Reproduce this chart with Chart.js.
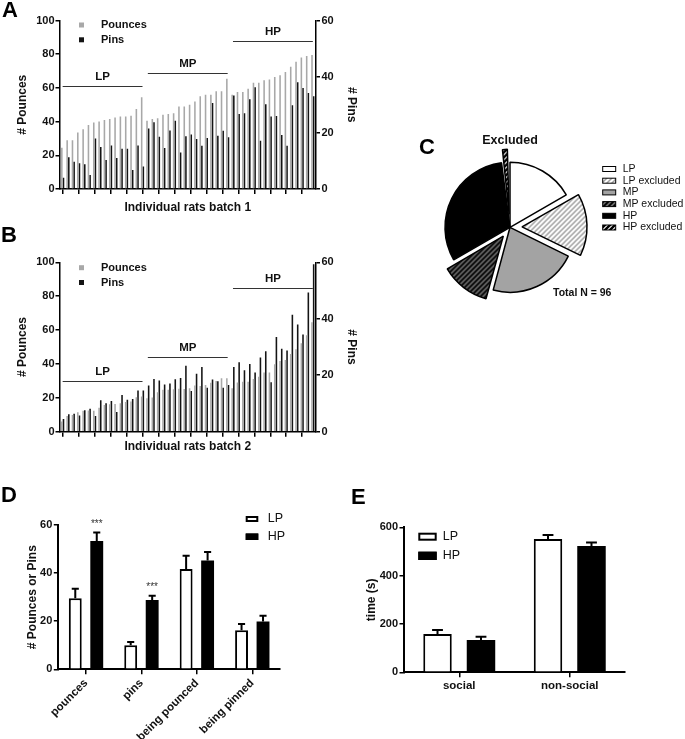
<!DOCTYPE html>
<html>
<head>
<meta charset="utf-8">
<script src="https://cdn.jsdelivr.net/npm/chart.js@4.4.0/dist/chart.umd.min.js"></script>
<style>
  html, body { margin: 0; padding: 0; background: #fff; overflow: hidden; }
  #fig { position: relative; width: 685px; height: 739px; }
  canvas { position: absolute; }
  .lbl { position: absolute; font: bold 22px 'Liberation Sans', Arial, sans-serif; line-height: 1; color: #000; }
</style>
</head>
<body>
<div id="fig">
  <canvas id="chartA" width="370" height="225" style="left:0;top:0;width:370px;height:225px"></canvas>
  <canvas id="chartB" width="370" height="225" style="left:0;top:240px;width:370px;height:225px"></canvas>
  <canvas id="chartC" width="345" height="190" style="left:340px;top:125px;width:345px;height:190px"></canvas>
  <canvas id="chartD" width="340" height="259" style="left:0;top:480px;width:340px;height:259px"></canvas>
  <canvas id="chartE" width="345" height="259" style="left:340px;top:480px;width:345px;height:259px"></canvas>
  <div class="lbl" style="left:2px;top:-1px">A</div>
  <div class="lbl" style="left:1px;top:224px">B</div>
  <div class="lbl" style="left:419px;top:136px">C</div>
  <div class="lbl" style="left:1px;top:484px">D</div>
  <div class="lbl" style="left:351px;top:486px">E</div>
</div>
<script>
// data
var ratLabels = [];
for (var i = 1; i <= 48; i++) ratLabels.push(String(i));

var batch1Pounces = [24.5, 29, 29, 33.5, 35.5, 38, 39.5, 40, 41, 41.5, 42.5, 43, 43, 43.5, 47.5, 54.5,
                     40.5, 41.5, 42, 44, 44.5, 45, 49, 49, 50, 52, 55, 56, 56, 58, 58, 65.5,
                     56, 57.5, 57.5, 59.5, 63, 63, 64.5, 65, 66.5, 67.5, 69.5, 72.5, 75.5, 78, 79, 79.5];
var batch1Pins = [4, 11.3, 9.7, 9.2, 8.8, 5, 18, 15, 10.3, 15.5, 11, 14.3, 14.3, 6.8, 15.5, 8,
                  21.5, 23.8, 18.6, 14.6, 20.8, 24.3, 13, 18.8, 19.4, 17.8, 15.4, 18.2, 30.6, 19, 20.7, 18.4,
                  33.3, 26.7, 27, 32, 36.2, 17.2, 30.2, 25.8, 26, 19.2, 15.4, 29.8, 38, 36, 34.2, 33];
var batch2Pounces = [6, 9.3, 9.9, 11.5, 12.3, 12.5, 12.3, 14.2, 15.8, 16.2, 16.4, 16.8, 17.6, 17.8, 20.4, 20.8,
                     19.8, 20.2, 23.3, 24.7, 24.7, 25.1, 25.3, 25.2, 25.6, 27.2, 27, 27.6, 28.9, 29.9, 31.5, 31.5,
                     25.6, 29.1, 29.5, 29.5, 31.1, 32.5, 35, 35, 39.8, 41.7, 42.3, 45.9, 48.6, 52.2, 57, 64.6];
var batch2Pins = [4.5, 6.2, 6.4, 5.7, 7.6, 8.1, 5.6, 11.1, 10.1, 10.9, 7, 13, 11.3, 11.6, 14.6, 14.6,
                  16.4, 18.7, 18.1, 16.7, 17.1, 18.6, 19, 23.4, 14.4, 20.5, 22.9, 15.6, 18.5, 17.9, 15.6, 16.5,
                  22.9, 24.6, 21.8, 24, 21, 26.3, 28.5, 17.5, 33.5, 29.4, 28.8, 41.4, 38, 34.4, 49.3, 59.3];

var groupNames = ['LP', 'MP', 'HP'];
var groupFirst = [0, 16, 32];
var groupLast = [15, 31, 47];
var batch1GroupLevel = [61, 69, 88];
var batch2GroupLevel = [30, 44, 85];

var pieLabels = ['LP', 'LP excluded', 'MP', 'MP excluded', 'HP', 'HP excluded'];
var pieCounts = [16, 15, 21, 12, 30, 2];

var playLabels = ['pounces', 'pins', 'being pounced', 'being pinned'];
var playLP = [29.5, 10, 41.7, 16.2];
var playLPsem = [4, 1.4, 5.5, 2.6];
var playHP = [53.3, 28.8, 45.2, 19.9];
var playHPsem = [3.6, 1.8, 3.6, 2.4];
var playSig = ['***', '***', '', ''];

var timeLabels = ['social', 'non-social'];
var timeLP = [158.6, 551.7];
var timeLPsem = [16.6, 16.6];
var timeHP = [133.8, 522.8];
var timeHPsem = [13.8, 13.8];

var FONT = "'Liberation Sans', Arial, sans-serif";
var GREY = '#a8a8a8';
var BLACK = '#141414';
Chart.defaults.font.family = FONT;
Chart.defaults.color = '#111';
Chart.defaults.animation = false;
Chart.defaults.plugins.legend.display = false;
Chart.defaults.plugins.tooltip.enabled = false;

function boldFont(size) { return { weight: 'bold', size: size }; }

// group lines, LP/MP/HP labels and the little legend for A and B
function groupDecor(levels, legendTop) {
  return {
    id: 'groupDecor',
    afterDatasetsDraw: function(chart) {
      var ctx = chart.ctx, xs = chart.scales.x, ys = chart.scales.y, area = chart.chartArea;
      ctx.save();
      ctx.strokeStyle = '#333';
      ctx.lineWidth = 1;
      ctx.fillStyle = '#111';
      ctx.font = 'bold 11.5px ' + FONT;
      ctx.textAlign = 'center';
      ctx.textBaseline = 'middle';
      for (var g = 0; g < groupNames.length; g++) {
        var x0 = xs.getPixelForValue(groupFirst[g]);
        var x1 = xs.getPixelForValue(groupLast[g]);
        var py = Math.round(ys.getPixelForValue(levels[g])) + 0.5;
        ctx.beginPath();
        ctx.moveTo(x0, py);
        ctx.lineTo(x1, py);
        ctx.stroke();
        ctx.fillText(groupNames[g], (x0 + x1) / 2, py - 9.5);
      }
      ctx.textAlign = 'left';
      ctx.font = 'bold 11px ' + FONT;
      chart.data.datasets.forEach(function(ds, k) {
        var cy = legendTop + k * 14.8;
        ctx.fillStyle = ds.backgroundColor;
        ctx.fillRect(area.left + 19, cy - 2.5, 5, 5);
        ctx.fillStyle = '#111';
        ctx.fillText(ds.label, area.left + 41, cy);
      });
      ctx.restore();
    }
  };
}

function ratChart(id, pounces, pins, levels, xTitle, padTop, padBottom, xHeight, legendTop) {
  return new Chart(document.getElementById(id), {
    type: 'bar',
    data: {
      labels: ratLabels,
      datasets: [
        { label: 'Pounces', data: pounces, yAxisID: 'y', backgroundColor: GREY },
        { label: 'Pins', data: pins, yAxisID: 'y1', backgroundColor: BLACK }
      ]
    },
    options: {
      responsive: false,
      datasets: { bar: { barPercentage: 0.95, categoryPercentage: 0.62 } },
      layout: { padding: { left: 11, right: 7, top: padTop, bottom: padBottom } },
      scales: {
        x: {
          offset: true,
          grid: {
            offset: false, drawOnChartArea: false, tickLength: 5, lineWidth: 1.5,
            color: function(c) { return c.index % 3 === 0 ? '#000' : 'rgba(0,0,0,0)'; }
          },
          border: { color: '#000', width: 1.5 },
          ticks: { display: false },
          title: { display: true, text: xTitle, font: boldFont(12), color: '#111', padding: { top: 0, bottom: 4 } },
          afterFit: function(s) { s.height = xHeight; }
        },
        y: {
          position: 'left', min: 0, max: 100,
          ticks: { stepSize: 20, font: boldFont(11), color: '#111', padding: 1 },
          grid: { drawOnChartArea: false, tickLength: 4.5, color: '#000', lineWidth: 1.5 },
          border: { color: '#000', width: 1.5 },
          title: { display: true, text: '# Pounces', font: boldFont(12), color: '#111' },
          afterFit: function(s) { s.width = 49; }
        },
        y1: {
          position: 'right', min: 0, max: 60,
          ticks: { stepSize: 20, font: boldFont(11), color: '#111', padding: 1.5 },
          grid: { drawOnChartArea: false, tickLength: 4.5, color: '#000', lineWidth: 1.5 },
          border: { color: '#000', width: 1.5 },
          title: { display: true, text: '# Pins', font: boldFont(12), color: '#111' },
          afterFit: function(s) { s.width = 47.5; }
        }
      }
    },
    plugins: [groupDecor(levels, legendTop)]
  });
}

ratChart('chartA', batch1Pounces, batch1Pins, batch1GroupLevel, 'Individual rats batch 1', 20.5, 6, 30, 25);
ratChart('chartB', batch2Pounces, batch2Pins, batch2GroupLevel, 'Individual rats batch 2', 22.3, 7.3, 26, 27.7);

// ---- C: pie ----
var pieCanvas = document.getElementById('chartC');
var pctx = pieCanvas.getContext('2d');
function hatch(bg, fg, lw, size) {
  var tile = document.createElement('canvas');
  tile.width = size; tile.height = size;
  var g = tile.getContext('2d');
  g.fillStyle = bg;
  g.fillRect(0, 0, size, size);
  g.strokeStyle = fg;
  g.lineWidth = lw;
  g.beginPath();
  g.moveTo(0, size); g.lineTo(size, 0);
  g.moveTo(-size / 2, size / 2); g.lineTo(size / 2, -size / 2);
  g.moveTo(size / 2, size * 1.5); g.lineTo(size * 1.5, size / 2);
  g.stroke();
  return pctx.createPattern(tile, 'repeat');
}
var pieFills = ['#ffffff', hatch('#ffffff', '#a0a0a0', 1.5, 5), '#a3a3a3',
                hatch('#6c6c6c', '#000000', 1.8, 5), '#000000', hatch('#ffffff', '#000000', 2.4, 5)];
// chart.js moves an arc by offset/4
var pieOffsets = [0, 48, 0, 44, 0, 52];

// keep exploded slices at the same radius as the others
var pieTrim = {
  id: 'pieTrim',
  afterDatasetUpdate: function(chart, args) {
    args.meta.data.forEach(function(arc) {
      var off = (arc.options.offset || 0) / 4;
      var fix = 1 - Math.sin(Math.min(Math.PI, arc.circumference));
      arc.outerRadius -= off * fix;
    });
  }
};

var pieDecor = {
  id: 'pieDecor',
  afterDraw: function(chart) {
    var ctx = chart.ctx;
    var total = pieCounts.reduce(function(a, b) { return a + b; }, 0);
    ctx.save();
    ctx.fillStyle = '#111';
    ctx.textBaseline = 'middle';
    ctx.textAlign = 'center';
    ctx.font = 'bold 12.5px ' + FONT;
    ctx.fillText('Excluded', 170, 16);
    ctx.textAlign = 'left';
    ctx.font = 'bold 10.5px ' + FONT;
    ctx.fillText('Total N = ' + total, 213, 168);
    ctx.font = '10.5px ' + FONT;
    chart.data.labels.forEach(function(lab, i) {
      var cy = 44 + i * 11.7;
      ctx.fillStyle = chart.data.datasets[0].backgroundColor[i];
      ctx.fillRect(262.7, cy - 2.5, 13, 5);
      ctx.strokeStyle = '#000';
      ctx.lineWidth = 1;
      ctx.strokeRect(262.7, cy - 2.5, 13, 5);
      ctx.fillStyle = '#111';
      ctx.fillText(lab, 282.7, cy);
    });
    ctx.restore();
  }
};

new Chart(pieCanvas, {
  type: 'pie',
  data: {
    labels: pieLabels,
    datasets: [{
      data: pieCounts, backgroundColor: pieFills, borderColor: '#000',
      borderWidth: 1.5, offset: pieOffsets
    }]
  },
  options: {
    responsive: false,
    radius: 65,
    layout: { padding: { left: 100, right: 105, top: 32, bottom: 17.4 } }
  },
  plugins: [pieTrim, pieDecor]
});

// ---- D, E: grouped bars with SEM ----
function errorDecor(sems, stars, legendBox, legendText) {
  return {
    id: 'errorDecor',
    afterDatasetsDraw: function(chart) {
      var ctx = chart.ctx, ys = chart.scales.y;
      ctx.save();
      ctx.strokeStyle = '#000';
      ctx.lineWidth = 2;
      chart.data.datasets.forEach(function(ds, i) {
        chart.getDatasetMeta(i).data.forEach(function(bar, j) {
          var top = ys.getPixelForValue(ds.data[j] + sems[i][j]);
          var half = 2 + bar.width * 0.12;
          ctx.beginPath();
          ctx.moveTo(bar.x, bar.y);
          ctx.lineTo(bar.x, top);
          ctx.moveTo(bar.x - half, top);
          ctx.lineTo(bar.x + half, top);
          ctx.stroke();
          if (stars && i === 1 && stars[j]) {
            ctx.fillStyle = '#333';
            ctx.font = '10px ' + FONT;
            ctx.textAlign = 'center';
            ctx.textBaseline = 'middle';
            ctx.fillText(stars[j], bar.x, top - 8);
          }
        });
      });
      // legend
      ctx.font = '12.5px ' + FONT;
      ctx.textAlign = 'left';
      ctx.textBaseline = 'middle';
      chart.data.datasets.forEach(function(ds, i) {
        var b = legendBox[i];
        ctx.fillStyle = ds.backgroundColor;
        ctx.fillRect(b[0], b[1], b[2], b[3]);
        ctx.lineWidth = 2;
        ctx.strokeRect(b[0] + 1, b[1] + 1, b[2] - 2, b[3] - 2);
        ctx.fillStyle = '#111';
        ctx.fillText(ds.label, legendText[0], legendText[1] + i * legendText[2]);
      });
      ctx.restore();
    }
  };
}

new Chart(document.getElementById('chartD'), {
  type: 'bar',
  data: {
    labels: playLabels,
    datasets: [
      { label: 'LP', data: playLP, backgroundColor: '#ffffff', borderColor: '#000', borderWidth: 2 },
      { label: 'HP', data: playHP, backgroundColor: '#000000', borderColor: '#000', borderWidth: 0 }
    ]
  },
  options: {
    responsive: false,
    datasets: { bar: { categoryPercentage: 0.775, barPercentage: 0.6 } },
    layout: { padding: { left: 21.8, right: 60, top: 45, bottom: 0 } },
    scales: {
      x: {
        grid: { offset: false, drawOnChartArea: false, tickLength: 5, color: '#000', lineWidth: 1.5 },
        border: { color: '#000', width: 2 },
        ticks: { minRotation: 45, maxRotation: 45, font: boldFont(11.5), color: '#111', padding: 2 },
        afterFit: function(s) { s.height = 69.7; }
      },
      y: {
        min: 0, max: 60,
        ticks: { stepSize: 20, font: boldFont(11), color: '#111', padding: 1.5 },
        grid: { drawOnChartArea: false, tickLength: 4.5, color: '#000', lineWidth: 1.5 },
        border: { color: '#000', width: 2 },
        title: { display: true, text: '# Pounces or Pins', font: boldFont(12), color: '#111' },
        afterFit: function(s) { s.width = 36.5; }
      }
    }
  },
  plugins: [errorDecor([playLPsem, playHPsem], playSig,
                       [[245.7, 36, 12.6, 6], [245.7, 53.5, 12.6, 6.5]], [267.7, 38.5, 18.5])]
});

new Chart(document.getElementById('chartE'), {
  type: 'bar',
  data: {
    labels: timeLabels,
    datasets: [
      { label: 'LP', data: timeLP, backgroundColor: '#ffffff', borderColor: '#000', borderWidth: 2 },
      { label: 'HP', data: timeHP, backgroundColor: '#000000', borderColor: '#000', borderWidth: 0 }
    ]
  },
  options: {
    responsive: false,
    datasets: { bar: { categoryPercentage: 0.787, barPercentage: 0.655 } },
    layout: { padding: { left: 20.5, right: 60, top: 47.3, bottom: 36.7 } },
    scales: {
      x: {
        grid: { offset: false, drawOnChartArea: false, tickLength: 5, color: '#000', lineWidth: 1.5 },
        border: { color: '#000', width: 2 },
        ticks: { maxRotation: 0, font: boldFont(11.5), color: '#111', padding: 2 },
        afterFit: function(s) { s.height = 30; }
      },
      y: {
        min: 0, max: 600,
        ticks: { stepSize: 200, font: boldFont(11), color: '#111', padding: 1.5 },
        grid: { drawOnChartArea: false, tickLength: 4.5, color: '#000', lineWidth: 1.5 },
        border: { color: '#000', width: 2 },
        title: { display: true, text: 'time (s)', font: boldFont(12), color: '#111' },
        afterFit: function(s) { s.width = 43.5; }
      }
    }
  },
  plugins: [errorDecor([timeLPsem, timeHPsem], null,
                       [[78.3, 52.7, 18.4, 8], [78.3, 71.7, 18.4, 8.3]], [102.7, 56.7, 19])]
});
</script>
</body>
</html>
